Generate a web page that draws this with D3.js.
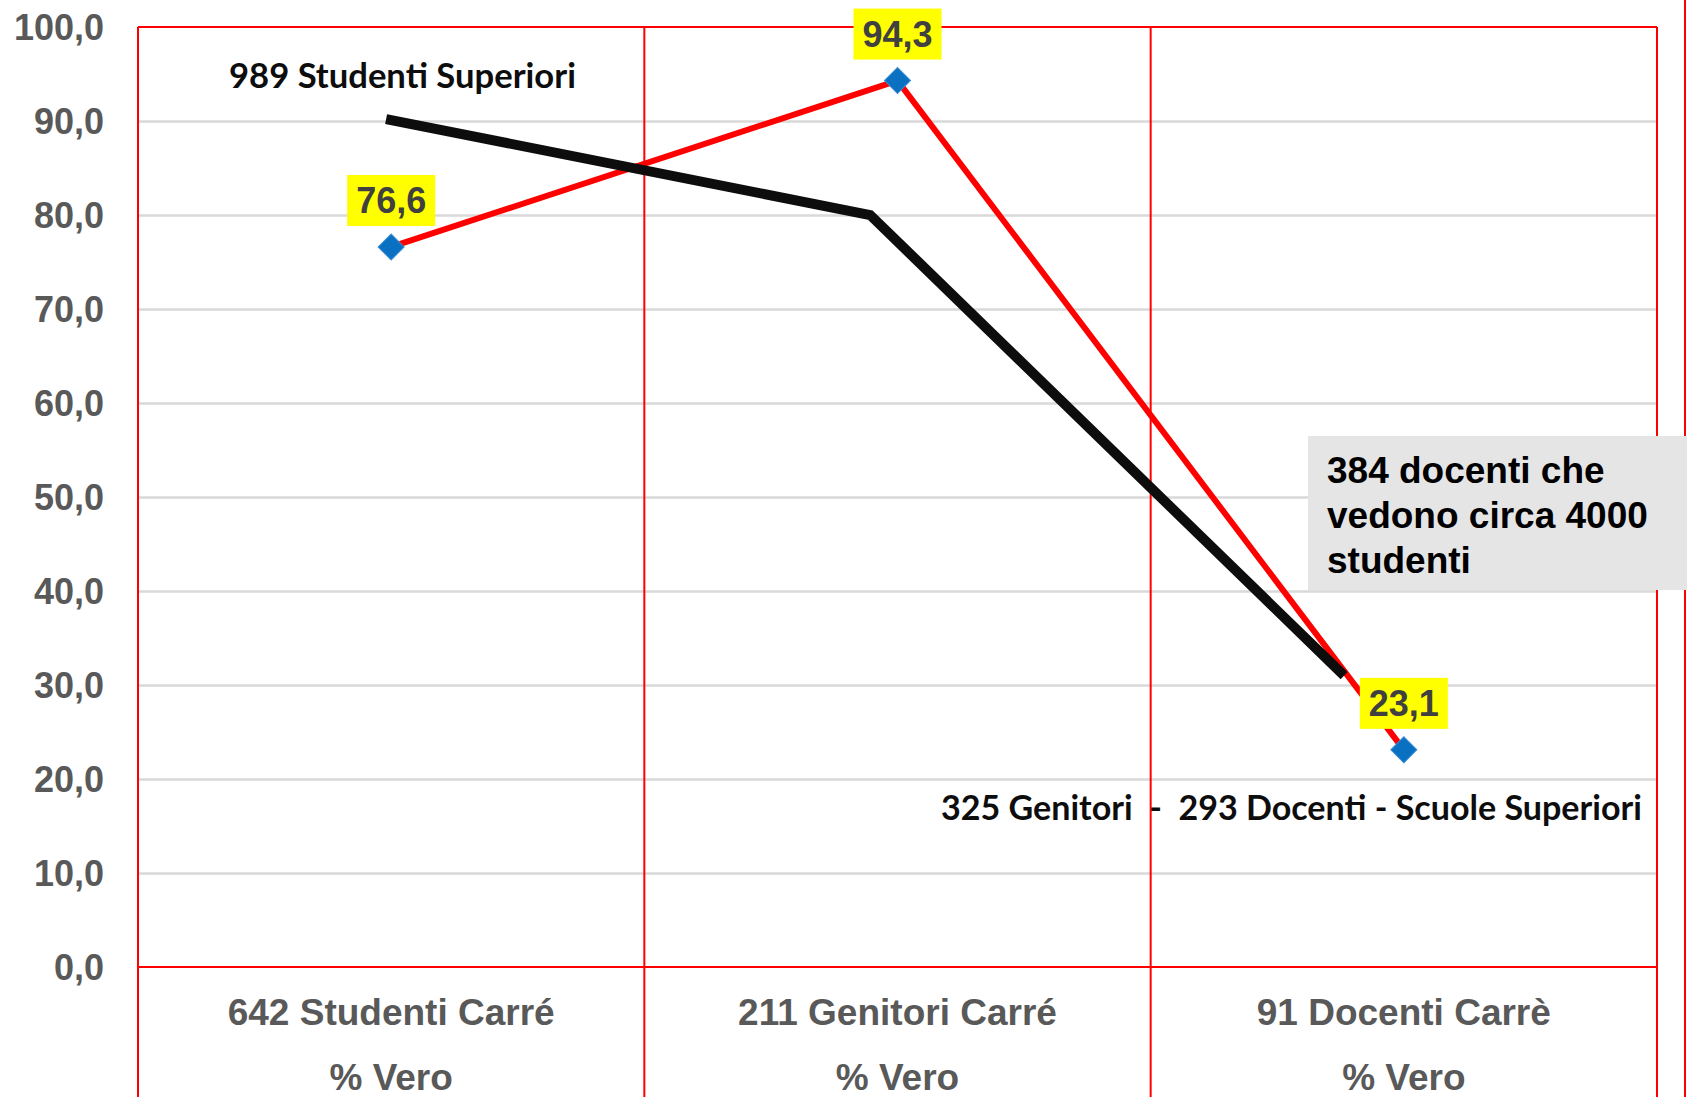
<!DOCTYPE html>
<html>
<head>
<meta charset="utf-8">
<script src="https://cdn.jsdelivr.net/npm/d3@7"></script>
<style>
  html, body { margin: 0; padding: 0; background: #ffffff; }
  svg { display: block; }
  text { white-space: pre; }
</style>
</head>
<body>
<svg id="chart" width="1687" height="1097"></svg>
<script>
// Categories (two-line axis labels)
const categories = ["642 Studenti Carré", "211 Genitori Carré", "91 Docenti Carrè"];
const categorySub = ["% Vero", "% Vero", "% Vero"];

// Main series: % Vero per group
const percentVero = [76.6, 94.3, 23.1];
const percentLabels = ["76,6", "94,3", "23,1"];

// Comparison line (other survey); x given in category-index units
const confrontoIdx = [-0.01, 0.946, 1.882];
const confrontoValori = [90.2, 80.0, 31.0];

// Y axis ticks
const yTicks = [0, 10, 20, 30, 40, 50, 60, 70, 80, 90, 100];
const yTickLabels = yTicks.map(v => v.toFixed(1).replace(".", ","));

// Annotations
const noteTop = "989 Studenti Superiori";
const noteBottom = "325 Genitori  -  293 Docenti - Scuole Superiori";
const calloutLines = ["384 docenti che", "vedono circa 4000", "studenti"];

const W = 1687, H = 1097;
const plot = { left: 138, right: 1657, top: 27, bottom: 967 };

const svg = d3.select("#chart");

const x = d3.scaleBand().domain(categories).range([plot.left, plot.right]).padding(0);
const xc = c => x(c) + x.bandwidth() / 2;
const y = d3.scaleLinear().domain([0, 100]).range([plot.bottom, plot.top]);
const xIdx = d3.scaleLinear().domain([0, 2]).range([xc(categories[0]), xc(categories[2])]);

const ARIAL = "'Liberation Sans', Arial, sans-serif";
const CALIBRI = "Lato, 'Open Sans', sans-serif";

// Horizontal gridlines
const yAxis = d3.axisLeft(y).tickValues(yTicks.filter(v => v > 0 && v < 100))
  .tickSize(-(plot.right - plot.left)).tickFormat("");
svg.append("g")
  .attr("transform", `translate(${plot.left},0)`)
  .call(yAxis)
  .call(g => g.select(".domain").remove())
  .call(g => g.selectAll("line").attr("stroke", "#d9d9d9").attr("stroke-width", 2.5));

// Y tick labels
svg.append("g").selectAll("text")
  .data(yTicks)
  .join("text")
  .attr("x", 104)
  .attr("y", d => y(d) + 13)
  .attr("text-anchor", "end")
  .attr("font-family", ARIAL)
  .attr("font-weight", "bold")
  .attr("font-size", 36)
  .attr("fill", "#595959")
  .text((d, i) => yTickLabels[i]);

// Red frame: top and baseline
const frame = svg.append("g").attr("stroke", "#ff0000").attr("stroke-width", 2).attr("fill", "none");
frame.append("line").attr("x1", plot.left).attr("x2", plot.right).attr("y1", y(100)).attr("y2", y(100));
frame.append("line").attr("x1", plot.left).attr("x2", plot.right).attr("y1", y(0)).attr("y2", y(0));

// Red vertical separators, extending through the category area
const vLines = categories.map(c => x(c)).concat([plot.right]);
frame.selectAll("line.v")
  .data(vLines)
  .join("line")
  .attr("class", "v")
  .attr("x1", d => d).attr("x2", d => d)
  .attr("y1", y(100)).attr("y2", H);
frame.append("line").attr("x1", 1685).attr("x2", 1685).attr("y1", 0).attr("y2", H);

// Category labels
const catG = svg.append("g")
  .attr("font-family", ARIAL).attr("font-weight", "bold")
  .attr("font-size", 37).attr("fill", "#595959").attr("text-anchor", "middle");
catG.selectAll("text.c1").data(categories).join("text").attr("class", "c1")
  .attr("x", d => xc(d)).attr("y", 1025).text(d => d);
catG.selectAll("text.c2").data(categorySub).join("text").attr("class", "c2")
  .attr("x", (d, i) => xc(categories[i])).attr("y", 1090).text(d => d);

// Main red line
const pts = percentVero.map((v, i) => [xc(categories[i]), y(v)]);
svg.append("path")
  .attr("d", d3.line()(pts))
  .attr("fill", "none")
  .attr("stroke", "#ff0000")
  .attr("stroke-width", 6)
  .attr("stroke-linejoin", "round");

// Diamond markers
const diamond = d3.symbol().type(d3.symbolSquare).size(340);
svg.append("g").selectAll("path")
  .data(pts)
  .join("path")
  .attr("d", diamond)
  .attr("transform", d => `translate(${d[0]},${d[1]}) rotate(45)`)
  .attr("fill", "#0a70c2")
  .attr("stroke", "#3a8fd6")
  .attr("stroke-width", 1);

// Black comparison line
const cmp = confrontoValori.map((v, i) => [xIdx(confrontoIdx[i]), y(v)]);
svg.append("path")
  .attr("d", d3.line()(cmp))
  .attr("fill", "none")
  .attr("stroke", "#0d0d0d")
  .attr("stroke-width", 10)
  .attr("stroke-linejoin", "miter")
  .attr("stroke-linecap", "butt");

// Value labels in yellow boxes
const lab = svg.append("g");
const boxW = 88, boxH = 51, gap = 21;
pts.forEach((p, i) => {
  const g = lab.append("g").attr("transform", `translate(${p[0]},${p[1] - gap - boxH / 2})`);
  g.append("rect").attr("x", -boxW / 2).attr("y", -boxH / 2).attr("width", boxW).attr("height", boxH)
    .attr("fill", "#ffff00");
  g.append("text").attr("y", 13).attr("text-anchor", "middle")
    .attr("font-family", ARIAL).attr("font-weight", "bold").attr("font-size", 36)
    .attr("fill", "#404040").text(percentLabels[i]);
});

// Free text annotations, fitted to their width
function fitText(sel, targetWidth) {
  let fs = +sel.attr("font-size");
  const w = sel.node().getComputedTextLength();
  if (w > 0) sel.attr("font-size", fs * targetWidth / w);
}
const t1 = svg.append("text").attr("x", 229).attr("y", 88)
  .attr("font-family", CALIBRI).attr("font-weight", "bold").attr("font-size", 32)
  .attr("fill", "#0d0d0d").text(noteTop);
fitText(t1, 347);
const t2 = svg.append("text").attr("x", 941).attr("y", 820)
  .attr("font-family", CALIBRI).attr("font-weight", "bold").attr("font-size", 32)
  .attr("fill", "#0d0d0d").text(noteBottom);
fitText(t2, 701);

// Grey callout box
const call = svg.append("g");
call.append("rect").attr("x", 1308).attr("y", 436).attr("width", W - 1308).attr("height", 154)
  .attr("fill", "#e5e5e5");
call.selectAll("text").data(calloutLines).join("text")
  .attr("x", 1327).attr("y", (d, i) => 483 + i * 45)
  .attr("font-family", ARIAL).attr("font-weight", "bold").attr("font-size", 37)
  .attr("fill", "#000000").text(d => d);
</script>
</body>
</html>
